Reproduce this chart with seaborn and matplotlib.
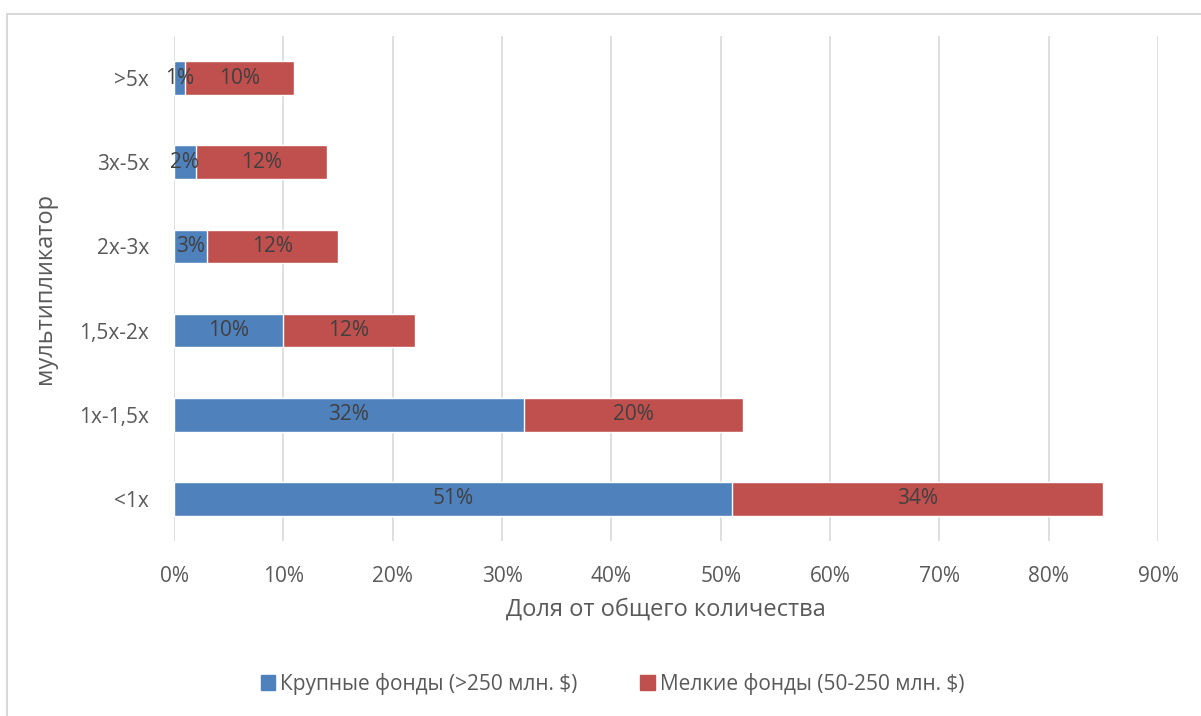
import pandas as pd
import matplotlib.pyplot as plt
import seaborn as sns
from matplotlib.patches import Rectangle, Patch

# Data
categories = ['>5x', '3x-5x', '2x-3x', '1,5x-2x', '1x-1,5x', '<1x']
large_funds = [1, 2, 3, 10, 32, 51]
small_funds = [10, 12, 12, 12, 20, 34]
large_label = 'Крупные фонды (>250 млн. $)'
small_label = 'Мелкие фонды (50-250 млн. $)'

df = pd.DataFrame({'cat': categories,
                   'large': [v / 100 for v in large_funds],
                   'small': [v / 100 for v in small_funds]})
df['total'] = df['large'] + df['small']

blue = '#4F81BD'
red = '#C0504D'
text_col = '#595959'

sns.set_theme(style='white')
plt.rcParams['font.family'] = ['Open Sans', 'DejaVu Sans']

fig = plt.figure(figsize=(12.01, 7.16), dpi=100)
ax = fig.add_axes([0.1449, 0.2444, 0.8193, 0.7053])

# stacked bars: total in red, then large funds in blue on top
sns.barplot(data=df, y='cat', x='total', order=categories, color=red,
            width=0.4, saturation=1, ax=ax, zorder=2)
sns.barplot(data=df, y='cat', x='large', order=categories, color=blue,
            width=0.4, saturation=1, ax=ax, zorder=3)

# value labels
for i, row in df.iterrows():
    ax.text(row['large'] / 2, i, f"{large_funds[i]}%", ha='center', va='center',
            fontsize=15, color='#404040', zorder=4)
    ax.text(row['large'] + row['small'] / 2, i, f"{small_funds[i]}%", ha='center',
            va='center', fontsize=15, color='#404040', zorder=4)

ax.set_xlim(0, 0.9)
ax.set_xticks([i / 10 for i in range(10)])
ax.set_xticklabels([f"{i * 10}%" for i in range(10)])
ax.grid(axis='x', color='#D9D9D9', linewidth=1.2, zorder=0)
ax.set_axisbelow(True)
for s in ax.spines.values():
    s.set_visible(False)
ax.tick_params(axis='both', length=0, labelsize=15, labelcolor=text_col)
ax.tick_params(axis='y', pad=18)
ax.tick_params(axis='x', pad=18)
ax.set_xlabel('Доля от общего количества', fontsize=17, color=text_col, labelpad=8)
ax.set_ylabel('мультипликатор', fontsize=17, color=text_col, labelpad=16)

handles = [Patch(color=blue, label=large_label), Patch(color=red, label=small_label)]
fig.legend(handles=handles, loc='center', bbox_to_anchor=(0.51, 0.045), ncol=2,
           frameon=False, fontsize=15, labelcolor=text_col, handlelength=0.7,
           handleheight=0.7, handletextpad=0.25, columnspacing=3)

# outer chart border
fig.patches.append(Rectangle((7 / 1201, -0.01), 1.02, 1 - 14 / 716 + 0.01,
                             transform=fig.transFigure, fill=False,
                             edgecolor='#D9D9D9', linewidth=1.5))

fig.savefig('out.png', dpi=100)
